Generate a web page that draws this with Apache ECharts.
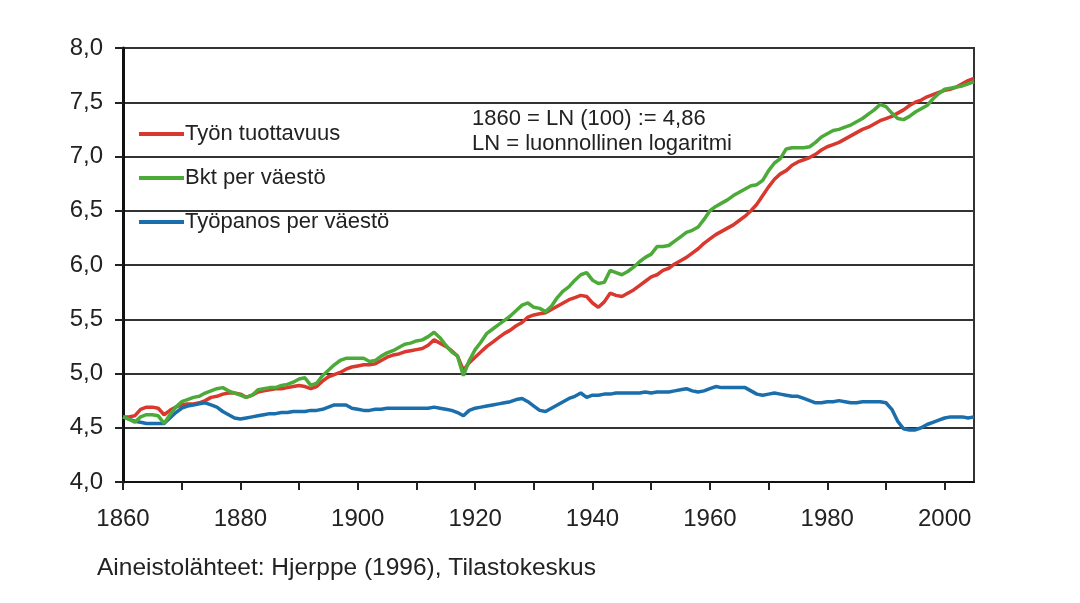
<!DOCTYPE html>
<html>
<head>
<meta charset="utf-8">
<script src="https://cdn.jsdelivr.net/npm/echarts@6/dist/echarts.min.js"></script>
<style>
html,body{margin:0;padding:0;background:#fff;}
#chart{width:1080px;height:603px;}
</style>
</head>
<body>
<div id="chart"></div>
<script>
const startYear = 1860;
const seriesNames = ['Työn tuottavuus', 'Bkt per väestö', 'Työpanos per väestö'];
const xTickValues = [1860,1870,1880,1890,1900,1910,1920,1930,1940,1950,1960,1970,1980,1990,2000];
const xLabelValues = [1860,1880,1900,1920,1940,1960,1980,2000];
const noteLines = ['1860 = LN (100) := 4,86', 'LN = luonnollinen logaritmi'];
const sourceText = 'Aineistolähteet: Hjerppe (1996), Tilastokeskus';

// Työn tuottavuus (red), 1860..2005
const tuottavuus = [
  4.60,4.60,4.61,4.67,4.69,4.69,4.68,4.62,4.66,4.69,
  4.71,4.72,4.72,4.73,4.75,4.78,4.79,4.81,4.82,4.82,
  4.81,4.78,4.80,4.83,4.84,4.85,4.86,4.86,4.87,4.88,
  4.89,4.88,4.86,4.88,4.93,4.97,4.99,5.01,5.04,5.06,
  5.07,5.08,5.08,5.09,5.12,5.15,5.17,5.18,5.20,5.21,
  5.22,5.23,5.26,5.31,5.28,5.25,5.21,5.16,5.03,5.10,
  5.15,5.20,5.25,5.29,5.33,5.37,5.40,5.44,5.47,5.52,
  5.54,5.55,5.56,5.59,5.62,5.65,5.68,5.70,5.72,5.71,
  5.65,5.61,5.66,5.74,5.72,5.71,5.74,5.77,5.81,5.85,
  5.89,5.91,5.95,5.97,6.01,6.04,6.07,6.11,6.15,6.20,
  6.24,6.28,6.31,6.34,6.37,6.41,6.45,6.50,6.56,6.64,
  6.72,6.79,6.84,6.87,6.92,6.95,6.97,6.99,7.02,7.06,
  7.09,7.11,7.13,7.16,7.19,7.22,7.25,7.27,7.30,7.33,
  7.35,7.37,7.40,7.43,7.47,7.50,7.52,7.55,7.57,7.59,
  7.61,7.62,7.64,7.67,7.70,7.72
];
// Bkt per väestö (green)
const bktPerVaesto = [
  4.60,4.58,4.55,4.60,4.62,4.62,4.61,4.54,4.62,4.69,
  4.74,4.76,4.78,4.79,4.82,4.84,4.86,4.87,4.84,4.82,
  4.80,4.78,4.80,4.85,4.86,4.87,4.87,4.89,4.90,4.92,
  4.95,4.96,4.89,4.91,4.98,5.03,5.08,5.12,5.14,5.14,
  5.14,5.14,5.11,5.12,5.16,5.19,5.21,5.24,5.27,5.28,
  5.30,5.31,5.34,5.38,5.33,5.26,5.20,5.16,4.98,5.12,
  5.22,5.29,5.37,5.41,5.45,5.49,5.53,5.58,5.63,5.65,
  5.61,5.60,5.57,5.62,5.70,5.76,5.80,5.86,5.91,5.93,
  5.86,5.83,5.84,5.95,5.93,5.91,5.94,5.98,6.03,6.07,
  6.10,6.17,6.17,6.18,6.22,6.26,6.30,6.32,6.35,6.42,
  6.50,6.54,6.57,6.60,6.64,6.67,6.70,6.73,6.74,6.78,
  6.87,6.94,6.98,7.07,7.08,7.08,7.08,7.09,7.13,7.18,
  7.21,7.24,7.25,7.27,7.29,7.32,7.35,7.39,7.43,7.48,
  7.46,7.40,7.35,7.34,7.37,7.41,7.44,7.47,7.53,7.58,
  7.62,7.63,7.64,7.65,7.67,7.69
];
// Työpanos per väestö (blue)
const tyopanos = [
  4.60,4.58,4.56,4.55,4.54,4.54,4.54,4.54,4.59,4.64,
  4.68,4.70,4.71,4.72,4.73,4.71,4.69,4.65,4.62,4.59,
  4.58,4.59,4.60,4.61,4.62,4.63,4.63,4.64,4.64,4.65,
  4.65,4.65,4.66,4.66,4.67,4.69,4.71,4.71,4.71,4.68,
  4.67,4.66,4.66,4.67,4.67,4.68,4.68,4.68,4.68,4.68,
  4.68,4.68,4.68,4.69,4.68,4.67,4.66,4.64,4.61,4.66,
  4.68,4.69,4.70,4.71,4.72,4.73,4.74,4.76,4.77,4.74,
  4.70,4.66,4.65,4.68,4.71,4.74,4.77,4.79,4.82,4.78,
  4.80,4.80,4.81,4.81,4.82,4.82,4.82,4.82,4.82,4.83,
  4.82,4.83,4.83,4.83,4.84,4.85,4.86,4.84,4.83,4.84,
  4.86,4.88,4.87,4.87,4.87,4.87,4.87,4.84,4.81,4.80,
  4.81,4.82,4.81,4.80,4.79,4.79,4.77,4.75,4.73,4.73,
  4.74,4.74,4.75,4.74,4.73,4.73,4.74,4.74,4.74,4.74,
  4.73,4.67,4.56,4.49,4.48,4.48,4.50,4.53,4.55,4.57,
  4.59,4.60,4.60,4.60,4.59,4.60
];

const colors = ['#d8382e', '#4caa38', '#1a6eab'];
const FONT = 'Liberation Sans, Arial, sans-serif';

function toPairs(arr){ return arr.map((v,i)=>[startYear+i, v]); }
const dataSets = [tuottavuus, bktPerVaesto, tyopanos];

const chart = echarts.init(document.getElementById('chart'), null, {renderer:'canvas'});
chart.setOption({
  animation:false,
  backgroundColor:'#ffffff',
  grid:{left:123, right:106, top:48, bottom:121, show:true, borderColor:'#333', borderWidth:2, backgroundColor:'transparent'},
  legend:{
    orient:'vertical', left:134, top:118, itemGap:22,
    itemWidth:45, itemHeight:4, icon:'rect',
    textStyle:{fontFamily:FONT, fontSize:22, color:'#222', padding:[0,0,0,-4]},
    data:seriesNames
  },
  xAxis:{
    type:'value', min:1860, max:2005, interval:10,
    axisLine:{show:true, onZero:false, lineStyle:{color:'#111', width:2}},
    axisTick:{show:true, length:8, lineStyle:{color:'#222', width:2}, customValues:xTickValues},
    axisLabel:{fontFamily:FONT, fontSize:24, color:'#222', margin:25, customValues:xLabelValues,
      formatter:v=>String(v)},
    splitLine:{show:false}
  },
  yAxis:{
    type:'value', min:4, max:8, interval:0.5,
    axisLine:{show:true, lineStyle:{color:'#111', width:3}},
    axisTick:{show:true, length:8, lineStyle:{color:'#222', width:2}},
    axisLabel:{fontFamily:FONT, fontSize:24, color:'#222', margin:20,
      formatter:v=>v.toFixed(1).replace('.',',')},
    splitLine:{show:true, lineStyle:{color:'#333', width:2}}
  },
  series:seriesNames.map((n,i)=>({
    name:n, type:'line', data:toPairs(dataSets[i]), showSymbol:false, symbol:'none',
    lineStyle:{color:colors[i], width:3.5}, itemStyle:{color:colors[i]}, z:[2,3,2][i]
  })),
  graphic:[
    {type:'text', left:472, top:108, style:{text:noteLines[0], font:'22px '+FONT, fill:'#222'}},
    {type:'text', left:472, top:133, style:{text:noteLines[1], font:'22px '+FONT, fill:'#222'}},
    {type:'text', left:97, top:556, style:{text:sourceText, font:'24.5px '+FONT, fill:'#222'}}
  ]
});
</script>
</body>
</html>
